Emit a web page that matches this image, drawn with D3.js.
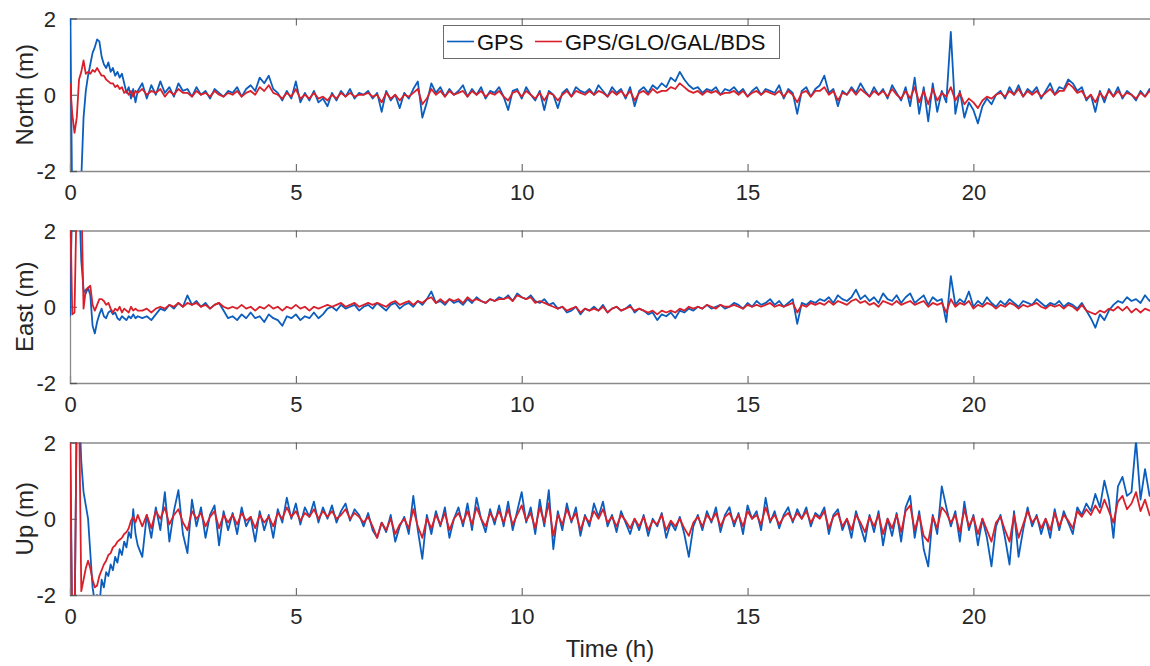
<!DOCTYPE html>
<html><head><meta charset="utf-8">
<script src="https://cdn.jsdelivr.net/npm/d3@7"></script>
<style>body{margin:0;background:#fff}svg{display:block}</style>
</head><body>
<svg id="c" width="1150" height="666"></svg>
<script>
// time axis sampling (hours): 0.05 h steps over the first 1.5 h, then 0.1 h steps
const hours = [...d3.range(0,31).map(i=>+(i*0.05).toFixed(2)), ...d3.range(0,225).map(i=>+(1.6+i*0.1).toFixed(1))];
const xTicks = [0,5,10,15,20];
const yTicks = [-2,0,2];
const seriesNames = ["GPS","GPS/GLO/GAL/BDS"];
const panelLabels = ["North (m)","East (m)","Up (m)"];

const northGPS = [3,-3,-3,-3,-3,-2.2,-0.6,0.1,0.5,0.8,1.1,1.25,1.45,1.4,1.0,0.8,0.7,0.85,0.6,0.7,0.5,0.6,0.45,0.55,0.3,0.05,0.2,-0.1,0.15,-0.2,0.1,
 0.3,-0.1,0.25,0.0,0.35,0.05,0.2,-0.05,0.3,0.1,
 0.15,-0.05,0.2,0.0,0.1,-0.1,0.15,0.05,-0.05,0.1,
 0.05,0.2,-0.05,0.15,0.25,0.1,0.45,0.3,0.5,0.15,
 0.05,-0.15,0.1,-0.1,0.35,-0.2,0.05,-0.15,0.1,-0.2,
 -0.1,-0.3,0.05,-0.15,0.1,-0.05,0.15,-0.1,0.05,0.0,
 0.1,-0.1,0.05,-0.45,0.1,-0.15,0.0,-0.35,0.05,-0.1,
 0.15,0.35,-0.6,-0.2,0.3,0.05,0.2,-0.05,0.15,0.0,
 0.1,0.25,-0.05,0.15,0.0,0.2,-0.1,0.1,0.05,0.2,
 -0.05,-0.4,0.1,0.15,-0.1,0.2,0.0,-0.15,0.1,-0.4,
 0.1,0.0,-0.35,0.05,0.15,-0.05,0.2,0.1,0.05,0.15,
 0.0,0.25,0.1,-0.05,0.2,0.05,0.15,-0.1,0.2,-0.3,
 0.1,0.2,0.05,0.25,0.15,0.3,0.2,0.45,0.35,0.6,
 0.4,0.25,0.15,0.2,0.05,0.15,0.1,0.2,0.0,0.15,
 0.1,0.2,0.05,0.15,-0.05,0.1,0.2,0.0,0.15,0.1,
 0.05,0.25,-0.1,0.15,0.05,-0.5,0.1,0.2,-0.05,0.15,
 0.25,0.5,0.05,0.15,-0.3,0.1,0.0,0.2,0.05,0.3,
 0.1,-0.05,0.2,0.0,0.15,-0.1,0.25,0.05,-0.15,0.2,
 -0.3,0.45,-0.5,0.2,-0.7,0.3,-0.45,0.1,-0.2,1.65,
 -0.5,0.1,-0.6,-0.2,-0.4,-0.75,-0.3,-0.1,-0.25,0.0,
 0.1,-0.1,0.2,0.0,0.25,-0.05,0.15,0.05,0.2,-0.1,
 0.1,0.3,0.0,0.2,0.15,0.4,0.3,0.1,0.2,-0.15,
 0.0,-0.45,0.1,-0.2,0.15,-0.05,0.2,-0.1,0.1,0.0,
 -0.15,0.1,-0.05,0.15,0.0];
const northMulti = [0.3,-0.5,-1.0,-0.6,0.4,0.6,0.9,0.55,0.6,0.55,0.65,0.6,0.7,0.6,0.5,0.5,0.4,0.35,0.3,0.3,0.2,0.25,0.15,0.2,0.05,0.1,0.0,0.1,-0.05,0.1,0.05,
 0.15,0.0,0.1,0.05,0.15,-0.05,0.1,0.0,0.15,0.05,
 0.05,-0.05,0.1,0.0,0.05,-0.05,0.1,0.0,-0.05,0.05,
 0.0,0.1,-0.05,0.05,0.1,0.0,0.2,0.1,0.25,0.05,
 0.0,-0.1,0.05,-0.05,0.15,-0.1,0.0,-0.1,0.05,-0.1,
 -0.05,-0.15,0.0,-0.1,0.05,-0.05,0.05,-0.05,0.0,0.0,
 0.05,-0.05,0.0,-0.2,0.05,-0.1,0.0,-0.15,0.0,-0.05,
 0.05,0.15,-0.25,-0.1,0.15,0.0,0.1,-0.05,0.1,0.0,
 0.05,0.1,-0.05,0.1,0.0,0.1,-0.05,0.05,0.0,0.1,
 -0.05,-0.15,0.05,0.1,-0.05,0.1,0.0,-0.1,0.05,-0.15,
 0.05,0.0,-0.15,0.0,0.1,-0.05,0.1,0.05,0.0,0.1,
 0.0,0.1,0.05,-0.05,0.1,0.0,0.1,-0.05,0.1,-0.15,
 0.05,0.1,0.0,0.15,0.05,0.1,0.1,0.2,0.15,0.3,
 0.2,0.1,0.05,0.1,0.0,0.1,0.05,0.1,0.0,0.05,
 0.05,0.1,0.0,0.1,-0.05,0.05,0.1,0.0,0.1,0.05,
 0.0,0.1,-0.05,0.1,0.0,-0.2,0.05,0.1,-0.05,0.1,
 0.1,0.2,0.0,0.1,-0.15,0.05,0.0,0.15,0.0,0.15,
 0.05,-0.05,0.1,0.0,0.1,-0.05,0.15,0.0,-0.1,0.1,
 -0.1,0.2,-0.2,0.1,-0.25,0.15,-0.15,0.05,-0.05,0.2,
 -0.15,0.05,-0.25,-0.1,-0.2,-0.35,-0.15,-0.05,-0.1,0.0,
 0.05,-0.05,0.1,0.0,0.15,-0.05,0.1,0.0,0.1,-0.05,
 0.05,0.15,0.0,0.1,0.1,0.3,0.2,0.05,0.1,-0.1,
 0.0,-0.2,0.05,-0.1,0.1,-0.05,0.1,-0.05,0.05,0.0,
 -0.1,0.05,-0.05,0.1,-0.05];

const eastGPS = [-0.25,3,3,3,3,1.2,0.45,0.35,0.5,0.3,-0.5,-0.7,-0.4,-0.2,-0.05,-0.25,-0.3,-0.15,-0.1,-0.2,-0.15,-0.3,-0.35,-0.25,-0.3,-0.35,-0.25,-0.3,-0.2,-0.3,-0.25,
 -0.3,-0.25,-0.35,-0.2,-0.05,-0.1,0.05,-0.05,0.1,0.0,
 0.3,0.05,0.15,0.0,0.1,-0.05,0.05,0.1,-0.1,-0.3,
 -0.25,-0.35,-0.2,-0.3,-0.15,-0.3,-0.25,-0.4,-0.2,-0.3,
 -0.35,-0.5,-0.25,-0.3,-0.2,-0.35,-0.25,-0.3,-0.15,-0.3,
 -0.2,-0.05,0.0,-0.1,0.05,-0.05,0.0,0.05,-0.1,0.0,
 0.05,-0.05,0.1,0.0,-0.1,0.05,0.1,-0.05,0.05,0.1,
 0.0,0.15,0.05,0.2,0.4,0.1,0.15,0.05,0.2,0.1,
 0.15,0.05,0.2,0.1,0.25,0.15,0.1,0.2,0.15,0.25,
 0.2,0.3,0.15,0.35,0.25,0.2,0.3,0.15,0.1,0.2,
 0.05,0.1,-0.05,0.0,-0.15,-0.1,0.0,-0.2,-0.05,-0.1,
 0.0,-0.1,0.05,-0.15,-0.05,0.0,-0.1,-0.05,0.05,-0.15,
 -0.05,-0.1,-0.2,-0.15,-0.35,-0.2,-0.25,-0.15,-0.3,-0.1,
 -0.15,-0.05,-0.1,0.0,-0.05,0.05,-0.05,0.0,0.05,-0.05,
 0.0,0.1,0.05,-0.05,0.1,0.0,0.15,0.05,0.1,0.2,
 0.05,0.15,0.0,0.1,0.2,-0.45,0.1,0.05,0.15,0.1,
 0.2,0.15,0.25,0.1,0.3,0.2,0.15,0.25,0.45,0.2,
 0.3,0.15,0.25,0.1,0.35,0.2,0.15,0.3,0.1,0.25,
 0.35,0.1,0.2,0.3,0.05,0.25,0.15,0.2,-0.4,0.8,
 0.05,0.2,0.1,0.4,0.0,0.15,0.05,0.25,0.1,0.0,
 0.15,0.05,0.2,0.1,0.0,0.15,0.1,0.05,0.2,0.1,
 0.0,0.1,0.05,0.15,0.0,0.1,0.05,-0.05,0.1,-0.1,
 -0.3,-0.55,-0.2,-0.35,-0.1,0.05,0.15,0.1,0.25,0.15,
 0.2,0.1,0.3,0.15,0.3];
const eastMulti = [3,-0.2,-0.15,3,3,3,-0.05,0.45,0.5,0.55,0.05,-0.1,0.05,0.2,0.2,0.15,0.05,0.1,-0.05,-0.15,-0.05,-0.1,0.0,-0.15,-0.05,-0.1,-0.15,0.0,-0.1,-0.05,-0.1,
 -0.1,-0.05,-0.15,-0.05,0.0,-0.05,0.05,0.0,0.1,0.0,
 0.1,0.05,0.1,0.0,0.05,-0.05,0.05,0.1,0.0,-0.05,
 0.0,-0.05,0.05,-0.05,0.0,-0.1,0.0,-0.05,0.05,-0.05,
 0.0,-0.1,0.0,-0.05,0.05,-0.05,0.0,-0.1,0.0,-0.05,
 0.0,0.05,0.0,0.05,0.1,0.0,0.05,0.1,0.0,0.05,
 0.1,0.05,0.1,0.05,0.0,0.1,0.15,0.05,0.1,0.15,
 0.05,0.15,0.1,0.2,0.25,0.1,0.2,0.1,0.2,0.15,
 0.2,0.1,0.25,0.15,0.2,0.15,0.1,0.2,0.15,0.2,
 0.2,0.25,0.15,0.3,0.25,0.2,0.25,0.1,0.15,0.1,
 0.05,0.0,-0.05,0.0,-0.1,-0.05,0.0,-0.15,-0.05,-0.1,
 -0.05,-0.1,0.0,-0.15,-0.05,0.0,-0.1,-0.05,0.0,-0.1,
 -0.05,-0.1,-0.15,-0.1,-0.2,-0.1,-0.15,-0.1,-0.15,-0.05,
 -0.1,0.0,-0.05,0.0,-0.05,0.05,0.0,-0.05,0.05,0.0,
 0.0,0.05,0.0,-0.05,0.05,0.0,0.05,0.0,0.05,0.1,
 0.0,0.05,0.0,0.05,0.1,-0.15,0.05,0.0,0.1,0.05,
 0.1,0.05,0.15,0.05,0.15,0.1,0.05,0.15,0.2,0.1,
 0.15,0.05,0.1,0.0,0.15,0.1,0.05,0.15,0.05,0.1,
 0.15,0.05,0.1,0.15,0.0,0.1,0.05,0.1,-0.15,0.2,
 0.0,0.1,0.05,0.15,-0.05,0.05,0.0,0.1,0.05,-0.05,
 0.05,0.0,0.1,0.05,-0.05,0.05,0.0,0.05,0.1,0.0,
 -0.05,0.05,0.0,0.05,-0.05,0.05,0.0,-0.1,0.05,-0.1,
 -0.15,-0.2,-0.1,-0.15,-0.05,-0.1,0.0,-0.1,0.0,-0.15,
 -0.05,-0.15,-0.05,-0.1,-0.1];

const upGPS = [3,-3,-3,3,3,1.5,0.7,0.35,0.0,-0.9,-1.8,-2.2,-2.0,-2.3,-1.6,-1.8,-1.4,-1.5,-1.2,-1.35,-1.0,-1.15,-0.8,-0.95,-0.6,-0.75,-0.35,-0.5,0.25,-0.4,-0.7,
 -1.0,0.1,-0.5,0.3,-0.3,0.7,-0.6,0.2,0.75,-0.4,
 -0.9,0.5,-0.2,0.3,-0.5,0.1,0.35,-0.7,0.2,-0.3,
 0.15,-0.4,0.3,-0.2,0.05,-0.6,0.2,-0.3,0.1,-0.5,
 0.25,-0.1,0.55,0.0,0.4,-0.15,0.3,0.05,0.45,-0.1,
 0.3,0.0,0.35,-0.1,0.2,0.4,-0.05,0.25,0.1,-0.2,
 0.15,-0.3,-0.5,-0.1,-0.35,0.1,-0.6,-0.2,0.05,-0.4,
 0.6,-0.3,-1.05,0.1,-0.4,0.2,-0.2,0.3,-0.5,0.0,
 0.3,-0.2,0.4,-0.3,0.55,0.0,-0.35,0.25,-0.15,0.35,
 -0.2,0.45,-0.3,0.2,0.7,-0.1,0.3,-0.4,0.5,-0.2,
 0.75,-0.8,0.2,-0.3,0.4,-0.1,0.3,-0.45,0.1,-0.2,
 0.4,0.05,0.45,-0.2,0.1,-0.35,0.2,-0.1,-0.4,0.0,
 -0.3,0.1,-0.45,0.0,-0.2,0.15,-0.5,-0.1,-0.3,0.05,
 -0.4,-1.0,-0.2,0.1,-0.3,0.2,-0.1,0.3,-0.35,0.1,
 0.3,-0.2,0.15,-0.4,0.35,0.0,0.2,-0.3,0.55,-0.1,
 0.2,-0.25,0.1,0.3,-0.1,0.25,0.0,0.3,-0.2,0.15,
 0.05,0.3,-0.4,0.1,0.25,-0.3,0.0,-0.5,0.2,-0.2,
 -0.6,0.1,-0.35,0.2,-0.7,0.0,-0.45,0.15,-0.6,0.3,
 0.6,-0.5,0.2,-0.8,-1.25,0.1,-0.4,0.85,0.3,-0.2,
 0.2,-0.6,0.45,-0.3,0.1,-0.7,0.0,-0.5,-1.25,-0.2,
 0.1,-0.5,-1.2,0.2,-1.0,-0.3,0.3,-0.2,0.1,-0.4,
 0.0,-0.5,0.25,-0.3,0.2,-0.1,-0.4,0.3,0.1,0.4,
 0.2,0.65,0.3,1.0,0.5,-0.5,0.85,1.1,0.6,0.7,
 2.05,0.5,1.3,0.6,0.9];
const upMulti = [2.0,-3,-3,3,3,-1.9,-1.6,-1.3,-1.1,-1.3,-1.6,-1.8,-1.75,-1.5,-1.35,-1.2,-1.1,-0.95,-0.9,-0.75,-0.7,-0.6,-0.55,-0.5,-0.4,-0.35,-0.25,-0.05,0.05,-0.1,0.1,
 -0.2,0.1,-0.25,0.2,0.0,0.3,-0.15,0.1,0.25,-0.1,
 -0.3,0.2,0.0,0.15,-0.2,0.05,0.2,-0.25,0.1,-0.1,
 0.1,-0.15,0.15,-0.05,0.05,-0.25,0.1,-0.1,0.05,-0.2,
 0.15,0.0,0.3,0.05,0.2,-0.05,0.15,0.05,0.25,0.0,
 0.2,0.05,0.2,0.0,0.1,0.25,0.0,0.15,0.05,-0.1,
 0.05,-0.2,-0.5,-0.1,-0.3,0.0,-0.4,-0.15,0.0,-0.25,
 0.25,-0.2,-0.5,0.0,-0.25,0.1,-0.15,0.15,-0.3,0.0,
 0.15,-0.1,0.2,-0.15,0.3,0.0,-0.2,0.15,-0.05,0.2,
 -0.1,0.25,-0.15,0.1,0.35,-0.05,0.15,-0.25,0.3,-0.1,
 0.4,-0.45,0.1,-0.15,0.25,-0.05,0.15,-0.3,0.05,-0.1,
 0.2,0.0,0.25,-0.1,0.05,-0.2,0.1,-0.05,-0.25,0.0,
 -0.2,0.05,-0.3,-0.05,-0.15,0.1,-0.3,-0.05,-0.2,0.0,
 -0.25,-0.45,-0.1,0.05,-0.2,0.1,-0.05,0.15,-0.2,0.05,
 0.15,-0.1,0.1,-0.2,0.2,0.0,0.1,-0.15,0.3,-0.05,
 0.1,-0.15,0.05,0.15,-0.05,0.15,0.0,0.2,-0.1,0.1,
 0.0,0.2,-0.25,0.05,0.15,-0.2,0.0,-0.3,0.1,-0.1,
 -0.35,0.05,-0.2,0.1,-0.4,0.0,-0.25,0.1,-0.35,0.2,
 0.35,-0.3,0.1,-0.45,-0.6,0.05,-0.25,0.3,0.15,-0.1,
 0.1,-0.35,0.25,-0.2,0.05,-0.4,0.0,-0.3,-0.6,-0.1,
 0.05,-0.3,-0.6,0.1,-0.5,-0.15,0.2,-0.1,0.05,-0.25,
 0.0,-0.3,0.15,-0.2,0.1,-0.05,-0.25,0.2,0.05,0.25,
 0.1,0.35,0.15,0.5,0.2,-0.1,0.45,0.6,0.25,0.4,
 0.7,0.2,0.5,0.1,0.0];

const panels = [
  {label: panelLabels[0], gps: northGPS, multi: northMulti},
  {label: panelLabels[1], gps: eastGPS, multi: eastMulti},
  {label: panelLabels[2], gps: upGPS, multi: upMulti}
];
const colors = ["#0b5ebd","#d9202a"];
const tops = [18.5, 230.5, 442.5];
const ph = 152.5;
const FONT = "'Liberation Sans', Arial, Helvetica, sans-serif";
const axisColor = "#8a8a8a", textColor = "#262626";
const fmt = d => String(d);

const svg = d3.select("#c");
const x = d3.scaleLinear().domain([0,24]).range([70, 70 + 24*45.17]);
const x0 = x.range()[0], x1 = x.range()[1];

panels.forEach((p, k) => {
  const y = d3.scaleLinear().domain([-2,2]).range([tops[k]+ph, tops[k]]);
  const g = svg.append("g");
  const cid = "clip"+k;
  svg.append("clipPath").attr("id", cid).append("rect")
    .attr("x", x0).attr("y", tops[k]).attr("width", x1-x0).attr("height", ph);

  const bottom = g.append("g").attr("transform", `translate(0,${tops[k]+ph})`)
    .call(d3.axisBottom(x).tickValues(xTicks).tickSize(-7).tickPadding(22).tickFormat(fmt));
  const top = g.append("g").attr("transform", `translate(0,${tops[k]})`)
    .call(d3.axisTop(x).tickValues(xTicks).tickSize(-7).tickFormat(""));
  const left = g.append("g").attr("transform", `translate(${x0},0)`)
    .call(d3.axisLeft(y).tickValues(yTicks).tickSize(-7).tickPadding(14).tickFormat(fmt));
  [bottom, top, left].forEach(a => {
    a.select(".domain").attr("stroke", axisColor).attr("stroke-width", 1.3);
    a.selectAll(".tick line").attr("stroke", "#555").attr("stroke-width", 1);
    a.selectAll(".tick text").attr("fill", textColor).style("font-family", FONT).style("font-size", "22px");
  });
  bottom.selectAll(".tick text").attr("dy", "0.3em");
  left.selectAll(".tick text").attr("dy", "0.35em");

  const line = d3.line().x((d)=>x(d[0])).y((d)=>y(d[1]));
  const lg = g.append("g").attr("clip-path", `url(#${cid})`);
  [p.gps, p.multi].forEach((vals, s) => {
    const pts = d3.zip(hours, vals);
    lg.append("path").datum(pts).attr("d", line)
      .attr("fill","none").attr("stroke", colors[s]).attr("stroke-width", 1.8).attr("stroke-linejoin","round");
  });

  g.append("text").attr("transform", `translate(33,${tops[k]+ph/2}) rotate(-90)`)
    .attr("text-anchor","middle").attr("fill", textColor)
    .style("font-family", FONT).style("font-size","24px").text(p.label);
});

svg.append("text").attr("x", 610).attr("y", 657).attr("text-anchor","middle")
  .attr("fill", textColor).style("font-family", FONT).style("font-size","24px").text("Time (h)");

const leg = svg.append("g");
leg.append("rect").attr("x", 443.5).attr("y", 25.5).attr("width", 336).attr("height", 33)
  .attr("fill","#fff").attr("stroke","#6b6b6b").attr("stroke-width",1);
const legItems = [{x1:447, x2:474, tx:477}, {x1:535, x2:562, tx:565}];
seriesNames.forEach((n,i) => {
  leg.append("line").attr("x1", legItems[i].x1).attr("x2", legItems[i].x2).attr("y1", 41.5).attr("y2", 41.5)
    .attr("stroke", colors[i]).attr("stroke-width", 1.6);
  leg.append("text").attr("x", legItems[i].tx).attr("y", 49.5).attr("fill", "#111")
    .style("font-family", FONT).style("font-size","22px").text(n);
});
</script>
</body></html>
